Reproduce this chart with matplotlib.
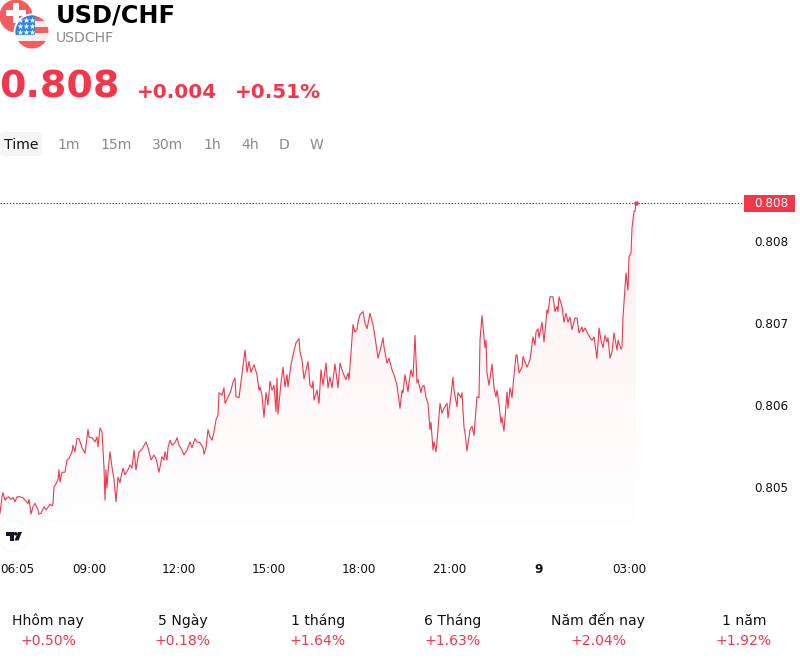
import numpy as np
import matplotlib
matplotlib.use("Agg")
import matplotlib.pyplot as plt
from matplotlib.patches import Circle, Rectangle, FancyBboxPatch, Polygon
from matplotlib.ticker import FixedLocator, FuncFormatter
from matplotlib.transforms import ScaledTranslation

plt.rcParams['font.family'] = ['DejaVu Sans']

# Intraday USD/CHF quotes: minutes since midnight of the first session, price in 1e-5 units
minutes = [362,364,366,368,372,376,380,384,388,392,396,402,408,412,418,420,424,428,432,438,440,444,450,454,462,466,468,470,474,478,480,482,486,492,496,500,506,508,512,516,520,526,532,538,540,546,552,556,558,562,566,570,572,574,576,578,582,586,590,594,598,602,604,608,612,618,622,626,630,634,640,646,654,658,664,670,674,680,686,690,692,696,698,702,706,712,716,720,726,730,736,742,746,752,756,762,768,770,774,778,782,786,790,794,798,800,806,810,812,820,824,828,832,834,840,844,848,852,856,860,864,870,876,880,882,886,890,894,898,902,906,910,914,916,918,924,928,932,936,938,944,948,954,960,962,966,970,978,982,986,988,990,996,1000,1004,1008,1014,1018,1022,1026,1032,1038,1042,1048,1054,1058,1060,1068,1072,1076,1078,1082,1088,1092,1096,1102,1108,1112,1118,1124,1128,1130,1136,1140,1146,1152,1156,1162,1166,1168,1172,1178,1180,1184,1188,1192,1196,1198,1204,1206,1210,1214,1218,1222,1224,1228,1230,1234,1236,1242,1246,1250,1256,1258,1264,1268,1270,1276,1278,1284,1286,1290,1292,1296,1302,1306,1310,1316,1320,1322,1326,1332,1334,1336,1340,1346,1350,1354,1356,1360,1364,1366,1370,1376,1378,1382,1386,1390,1394,1396,1400,1406,1408,1416,1422,1426,1428,1432,1434,1438,1440,1446,1450,1456,1458,1462,1468,1472,1476,1478,1480,1486,1490,1494,1498,1502,1506,1512,1516,1520,1526,1528,1532,1536,1542,1546,1550,1556,1560,1564,1568,1572,1576,1578,1582,1586,1590,1596,1598,1604,1606,1608,1614,1618,1620,1624,1626,1630,1632,1634]
quotes = [80468,80478,80488,80493,80484,80487,80488,80485,80487,80482,80488,80488,80487,80484,80480,80485,80467,80476,80480,80472,80467,80468,80476,80472,80479,80477,80480,80500,80504,80509,80521,80506,80518,80518,80533,80535,80543,80551,80543,80559,80559,80548,80541,80570,80561,80560,80555,80561,80549,80572,80567,80524,80484,80521,80499,80518,80543,80524,80509,80482,80512,80505,80512,80523,80515,80521,80527,80523,80545,80521,80543,80546,80555,80548,80533,80539,80535,80518,80537,80533,80543,80533,80548,80557,80551,80554,80560,80551,80545,80539,80545,80555,80548,80559,80555,80554,80548,80540,80548,80570,80561,80557,80567,80582,80588,80615,80612,80621,80602,80612,80618,80628,80633,80610,80609,80628,80646,80667,80640,80653,80640,80649,80637,80618,80622,80612,80585,80615,80600,80629,80618,80624,80592,80633,80589,80627,80646,80622,80637,80622,80649,80661,80676,80681,80665,80655,80632,80653,80624,80621,80629,80606,80618,80602,80643,80624,80651,80621,80634,80621,80650,80621,80651,80639,80631,80639,80631,80698,80689,80692,80701,80710,80714,80700,80693,80712,80698,80683,80657,80671,80682,80671,80651,80657,80643,80633,80624,80596,80618,80615,80637,80616,80628,80643,80634,80685,80627,80631,80615,80622,80624,80609,80602,80570,80579,80545,80555,80543,80555,80602,80590,80596,80602,80584,80612,80634,80618,80598,80615,80609,80615,80573,80566,80544,80570,80574,80563,80610,80609,80679,80709,80670,80679,80639,80624,80650,80621,80610,80618,80601,80578,80585,80568,80616,80596,80621,80609,80637,80661,80661,80639,80646,80659,80646,80655,80673,80683,80673,80689,80693,80682,80701,80677,80716,80712,80732,80732,80714,80720,80714,80732,80720,80701,80712,80701,80707,80692,80706,80706,80688,80695,80689,80694,80689,80682,80679,80683,80657,80694,80679,80670,80685,80677,80682,80657,80665,80688,80667,80679,80668,80671,80707,80761,80740,80781,80785,80816,80836,80836,80846]

x_tick_minutes = [365, 540, 720, 900, 1080, 1260, 1440, 1620]
x_tick_labels = ['06:05', '09:00', '12:00', '15:00', '18:00', '21:00', '9', '03:00']
y_ticks = [0.805, 0.806, 0.807, 0.808]

pair_name = 'USD/CHF'
pair_code = 'USDCHF'
last_price = '0.808'
change_abs = '+0.004'
change_pct = '+0.51%'
intervals = ['Time', '1m', '15m', '30m', '1h', '4h', 'D', 'W']
period_names = ['Hhôm nay', '5 Ngày', '1 tháng', '6 Tháng', 'Năm đến nay', '1 năm']
period_changes = ['+0.50%', '+0.18%', '+1.64%', '+1.63%', '+2.04%', '+1.92%']

RED = '#f5364a'
GRAY = '#8a8a8a'
W, H = 800, 660
fig = plt.figure(figsize=(W / 100, H / 100), dpi=100, facecolor='white')

# Price chart: pane runs to x=744, y from 170 to 545 in figure pixels
ax = fig.add_axes([0, 1 - 545 / H, 744 / W, 375 / H])
prices = np.array(quotes) / 1e5
times = np.array(minutes)
xlim = (362, 362 + 744 * 2)
ylim = (0.805 + (487 - 545) / 82000, 0.805 + (487 - 170) / 82000)
for s in ax.spines.values():
    s.set_visible(False)
ax.patch.set_alpha(0)

# Area under the line fades from a faint red into white
poly = ax.fill_between(times, prices, ylim[0], color='none', lw=0)
grad = np.zeros((256, 1, 4))
grad[..., :3] = matplotlib.colors.to_rgb(RED)
grad[..., 3] = np.linspace(0.075, 0.0, 256)[:, None]
ylo, yhi = 0.805 + (487 - 542) / 82000, prices.max()
im = ax.imshow(grad, extent=[times[0], times[-1], ylo, yhi], origin='upper',
               aspect='auto', zorder=1, interpolation='bilinear')
im.set_clip_path(poly.get_paths()[0], transform=ax.transData)
ax.set_xlim(*xlim)
ax.set_ylim(*ylim)

ax.plot(times, prices, color=RED, lw=0.8, zorder=3, solid_joinstyle='round')
ax.axhline(prices[-1], color='#8c3a46', lw=0.8, dashes=(1.3, 1.5), zorder=2)
ax.plot(times[-1], prices[-1], 'o', color=RED, ms=3.2, mew=0, zorder=4)

ax.yaxis.tick_right()
ax.yaxis.set_major_locator(FixedLocator(y_ticks))
ax.yaxis.set_major_formatter(FuncFormatter(lambda v, _: f'{v:.3f}'))
ax.tick_params(axis='y', length=0, pad=7.2, labelsize=8.64, labelcolor='#111111')
ax.set_xticks(x_tick_minutes, x_tick_labels)
ax.tick_params(axis='x', length=0, pad=13, labelsize=8.64, labelcolor='#111111')
xlabels = ax.get_xticklabels()
xlabels[0].set_ha('left')
xlabels[0].set_transform(xlabels[0].get_transform()
                         + ScaledTranslation(-1.5 / 100, 0, fig.dpi_scale_trans))
xlabels[6].set_fontweight('bold')

# Overlay in figure pixels for the header, price tag, logo and footer
ov = fig.add_axes([0, 0, 1, 1], zorder=5)
ov.set_xlim(0, W)
ov.set_ylim(H, 0)
ov.axis('off')
ov.patch.set_alpha(0)

# Flag badges
ov.add_patch(Circle((16, 16), 16.5, fc='#f55c5c', ec='none', zorder=1))
ov.add_patch(Rectangle((12.5, 3), 6, 20, fc='white', ec='none', zorder=1.1))
ov.add_patch(Rectangle((5.5, 10), 20, 6, fc='white', ec='none', zorder=1.1))
ov.add_patch(Circle((32, 32), 18.5, fc='white', ec='none', zorder=2))
us = Circle((32, 32), 16.5, fc='#f5f0f0', ec='none', zorder=2.1)
ov.add_patch(us)
parts = [Rectangle((15, 15), 34, 6, fc='#f55c5c', ec='none'),
         Rectangle((15, 27), 34, 6, fc='#f55c5c', ec='none'),
         Rectangle((15, 41), 34, 8, fc='#f55c5c', ec='none'),
         Rectangle((15, 15), 20, 20, fc='#2f86e4', ec='none')]
for p in parts:
    p.set_zorder(2.2)
    ov.add_patch(p)
    p.set_clip_path(us)
star_x, star_y = np.meshgrid([20, 26, 32], [20, 26, 32])
stars = ov.scatter(star_x.ravel(), star_y.ravel(), marker='*', s=20, c='white',
                   linewidths=0, zorder=2.3)
stars.set_clip_path(us)

# Header text
ov.text(56, 15.5, pair_name, fontsize=17.28, fontweight='bold', color='black', va='center', ha='left')
ov.text(56, 38.5, pair_code, fontsize=10.08, color=GRAY, va='center', ha='left')
ov.text(-1, 88, last_price, fontsize=27.4, fontweight='bold', color=RED, va='center', ha='left')
ov.text(137, 93, change_abs, fontsize=14.4, fontweight='bold', color=RED, va='center', ha='left')
ov.text(235, 93, change_pct, fontsize=14.4, fontweight='bold', color=RED, va='center', ha='left')

# Interval selector
ov.add_patch(FancyBboxPatch((2, 134), 38, 20, boxstyle='round,pad=2,rounding_size=4',
                            fc='#f5f5f5', ec='none', zorder=1))
interval_x = [21, 69, 116, 168, 212, 250, 284, 316]
for i, (lab, xp) in enumerate(zip(intervals, interval_x)):
    ov.text(xp, 145, lab, fontsize=10.08, color='#111111' if i == 0 else GRAY,
            ha='center', va='center', zorder=2)

# Current price tag
ov.add_patch(Rectangle((744, 195), 51, 17, fc=RED, ec='none', zorder=1))
ov.text(771, 203.5, last_price, fontsize=8.64, color='white', ha='center', va='center', zorder=2)

# Logo chip with a soft shadow
for r, a in zip([17, 16, 15], [0.006, 0.008, 0.010]):
    ov.add_patch(Circle((13, 536), r, fc='black', alpha=a, ec='none', zorder=1))
ov.add_patch(Circle((13, 536), 14.5, fc='white', ec='none', zorder=1.5))
ov.add_patch(Polygon([(6, 532), (13.5, 532), (13.5, 540.5), (10, 540.5), (10, 535.5), (6, 535.5)],
                     fc='#131722', ec='none', zorder=2))
ov.add_patch(Circle((15.6, 533.8), 1.8, fc='#131722', ec='none', zorder=2))
ov.add_patch(Polygon([(18, 532), (22, 532), (18.5, 540.5), (14.5, 540.5)],
                     fc='#131722', ec='none', zorder=2))

# Period performance row
period_x = [48, 183, 318, 452.5, 598, 744]
for xp, name, chg in zip(period_x, period_names, period_changes):
    ov.text(xp, 625, name, fontsize=10.08, color='#111111', ha='center', va='baseline')
    ov.text(xp, 645, chg, fontsize=10.08, color=RED, ha='center', va='baseline')

fig.savefig('out.png', dpi=100, facecolor='white')
